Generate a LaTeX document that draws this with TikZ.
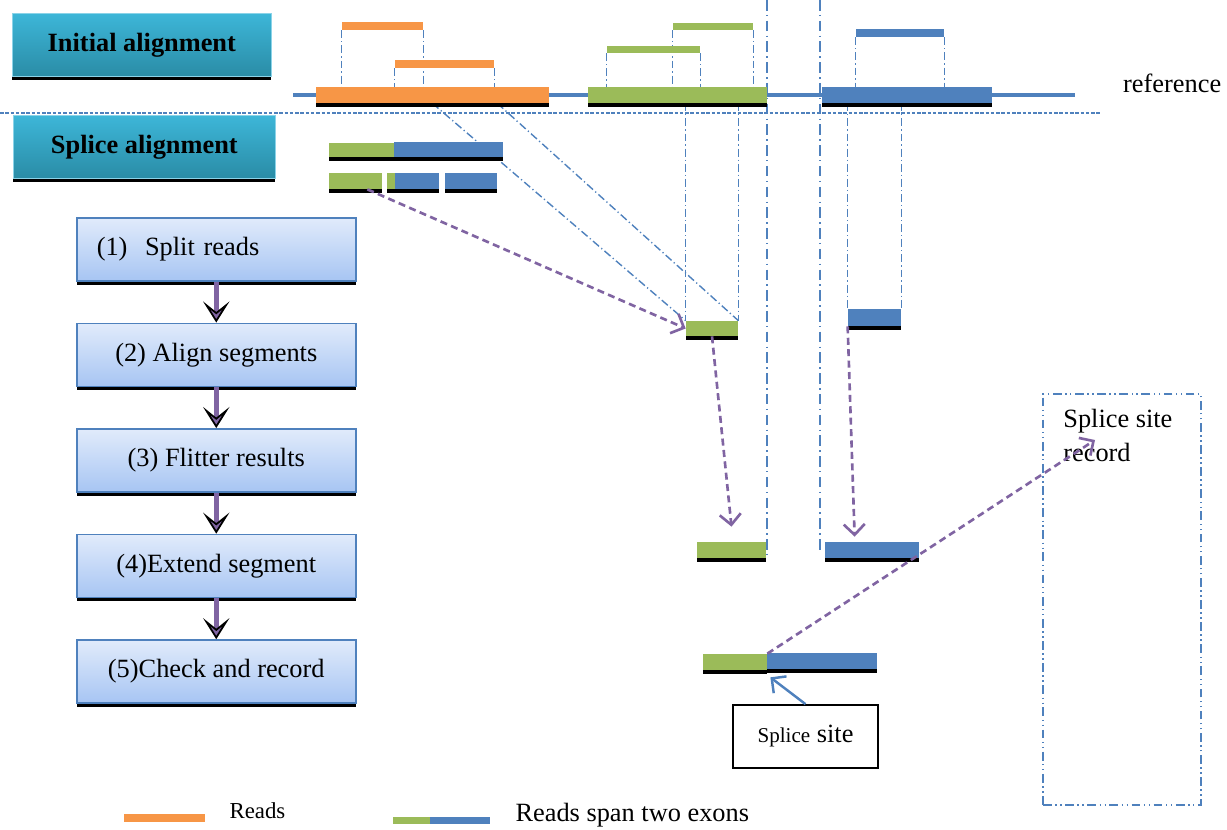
\documentclass[tikz,border=0pt]{standalone}
\usepackage{fontspec}
\setmainfont{Liberation Serif}
\usepackage{tikz}
\usetikzlibrary{positioning, arrows.meta, fit, shadows, calc}
\usepackage{xcolor}

\definecolor{exonorange}{HTML}{F79646}
\definecolor{exongreen}{HTML}{9BBB59}
\definecolor{exonblue}{HTML}{4F81BD}
\definecolor{flowpurple}{HTML}{8064A2}
\definecolor{headtop}{HTML}{3DB6D8}
\definecolor{headbottom}{HTML}{2A8CA6}
\definecolor{steptop}{HTML}{E1EBFB}
\definecolor{stepbottom}{HTML}{A7C5F3}

\newcommand{\bigfont}{\fontsize{15}{18}\selectfont}

\begin{document}
\begin{tikzpicture}[
      x=0.02cm, y=-0.02cm,
      node distance=0.82cm,
      >=Stealth,
      blackshadow/.style={
        drop shadow={shadow xshift=0pt, shadow yshift=-0.08cm, fill=black, opacity=1},
      },
      bar/.style={rectangle, inner sep=0pt, draw=none},
      shadowbar/.style={bar, blackshadow},
      headbox/.style={
        rectangle, top color=headtop, bottom color=headbottom, draw=headtop!60!white,
        minimum height=1.26cm, font=\bigfont\bfseries, blackshadow,
      },
      stepbox/.style={
        rectangle, top color=steptop, bottom color=stepbottom, draw=exonblue,
        line width=0.9pt, minimum width=5.58cm, minimum height=1.26cm,
        font=\bigfont, blackshadow,
      },
      sitebox/.style={
        rectangle, draw=black, line width=1pt,
        minimum width=2.9cm, minimum height=1.26cm, font=\bigfont,
      },
      recordbox/.style={
        rectangle, draw=exonblue, line width=1pt, inner sep=0pt,
        dash pattern=on 5pt off 2pt on 0.8pt off 2pt on 0.8pt off 2pt,
      },
      refline/.style={draw=exonblue, line width=2.2pt},
      guide/.style={draw=exonblue, line width=0.8pt, dash pattern=on 4.5pt off 1.7pt on 0.7pt off 1.7pt},
      cutline/.style={draw=exonblue, line width=1.4pt, dash pattern=on 6pt off 2.5pt on 0.8pt off 2.5pt},
      sepline/.style={draw=exonblue, line width=0.6pt, dash pattern=on 2pt off 1pt},
      flowarrow/.style={
        draw=flowpurple, line width=2.8pt,
        -{Stealth[length=12pt, width=15pt, inset=6pt, fill=flowpurple, color=black, line width=1pt]},
      },
      readarrow/.style={
        draw=flowpurple, line width=1.5pt, dash pattern=on 4pt off 2.5pt,
        -{Straight Barb[length=6pt, width=12pt]},
      },
      sitearrow/.style={draw=exonblue, line width=1.4pt, -{Straight Barb[length=6pt, width=12pt]}}
    ]
      \useasboundingbox (0,0) rectangle (1227,830);

      % layers
      \pgfdeclarelayer{background}
      \pgfsetlayers{background,main}

      % headers
      \node[headbox, minimum width=5.18cm, anchor=north west] (initial) at (12,13) {Initial alignment};
      \node[headbox, minimum width=5.24cm, anchor=north west] (splice) at (13,115) {Splice alignment};

      % exons on the reference
      \node[shadowbar, fill=exonorange, fit={(316,87) (549,103)}] (ox) {};
      \node[shadowbar, fill=exongreen, fit={(588,87) (767,103)}] (gx) {};
      \node[shadowbar, fill=exonblue, fit={(822,87) (992,103)}] (bx) {};
      \node[anchor=west, font=\bigfont] (reflabel) at (1117,83) {reference};

      % reads of the initial alignment
      \node[bar, fill=exonorange, fit={(342,22) (423,30)}] (or1) {};
      \node[bar, fill=exonorange, fit={(395,60) (494,68)}] (or2) {};
      \node[bar, fill=exongreen, fit={(673,23) (753,30)}] (gr1) {};
      \node[bar, fill=exongreen, fit={(607,46) (700,53)}] (gr2) {};
      \node[bar, fill=exonblue, fit={(856,29) (944,37)}] (br1) {};

      % split reads
      \node[shadowbar, fill=exongreen, fit={(329,143) (394,157)}] (r1g) {};
      \node[shadowbar, fill=exonblue, fit={(394,142) (503,157)}] (r1b) {};
      \node[shadowbar, fill=exongreen, fit={(329,173) (382,189)}] (r2a) {};
      \node[shadowbar, fill=exongreen, fit={(387,173) (395,189)}] (r2bg) {};
      \node[shadowbar, fill=exonblue, fit={(395,173) (439,189)}] (r2bb) {};
      \node[shadowbar, fill=exonblue, fit={(445,173) (497,189)}] (r2c) {};

      % aligned and extended segments
      \node[shadowbar, fill=exongreen, fit={(686,321) (738,336)}] (seg1) {};
      \node[shadowbar, fill=exonblue, fit={(848,309) (901,326)}] (seg2) {};
      \node[shadowbar, fill=exongreen, fit={(697,542) (766,558)}] (ext1) {};
      \node[shadowbar, fill=exonblue, fit={(825,542) (919,558)}] (ext2) {};
      \node[shadowbar, fill=exongreen, fit={(703,654) (767,670)}] (fg) {};
      \node[shadowbar, fill=exonblue, fit={(767,653) (877,669)}] (fb) {};

      % splice site
      \node[sitebox] (site) at (805.5,736.5) {{\fontsize{12}{14}\selectfont Splice} site};
      \draw[sitearrow] (site.north) -- ([xshift=0.06cm, yshift=-0.14cm]fg.south east);

      % splice site record
      \node[recordbox, fit={(1043,394) (1201,805)}] (rec) {};
      \node[anchor=north west, align=left, inner sep=0pt, font=\fontsize{15}{19}\selectfont] (rectext) at (1063,409) {Splice site\\record};
      \coordinate (recin) at (1095,440);

      % steps
      \node[stepbox, anchor=north west, align=left, inner xsep=0.4cm, text width=4.78cm] (s1) at (76,217) {(1)~~Split reads};
      \node[stepbox, below=of s1] (s2) {(2) Align segments};
      \node[stepbox, below=of s2] (s3) {(3) Flitter results};
      \node[stepbox, below=of s3] (s4) {(4)Extend segment};
      \node[stepbox, below=of s4] (s5) {(5)Check and record};

      % Draw arrows
      \draw[flowarrow] (s1) -- (s2);
      \draw[flowarrow] (s2) -- (s3);
      \draw[flowarrow] (s3) -- (s4);
      \draw[flowarrow] (s4) -- (s5);

      \draw[readarrow] ([xshift=-0.3cm]r2a.south east) -- (seg1.west);
      \draw[readarrow] (seg1.south) -- ([yshift=0.3cm]ext1.north);
      \draw[readarrow] (seg2.south west) -- ([xshift=0.6cm, yshift=0.1cm]ext2.north west);
      \draw[readarrow] (fg.north east) -- (recin);

      % legend
      \node[bar, fill=exonorange, fit={(124,814) (205,822)}] (legread) {};
      \node[right=0.36cm of legread, yshift=0.14cm, font=\fontsize{13}{15}\selectfont] (legreadtxt) {Reads};
      \node[bar, fill=exongreen, fit={(393,817) (430,824)}] (leggreen) {};
      \node[bar, fill=exonblue, fit={(430,817) (490,824)}] (legblue) {};
      \node[right=0.38cm of legblue, yshift=0.1cm, font=\bigfont] (legspantxt) {Reads span two exons};

      % reference line and guides
      \begin{pgfonlayer}{background}
        \coordinate (refL) at (293,95);
        \coordinate (refR) at (1075,95);
        \draw[refline] (refL) -- (refR);

        \coordinate (sepL) at (0,113);
        \coordinate (sepR) at (1100,113);
        \draw[sepline] (sepL) -- (sepR);

        \coordinate (cutL) at (767,0);
        \coordinate (cutR) at (820,0);
        \draw[cutline] (cutL) -- (cutL |- ext1.south);
        \draw[cutline] (cutR) -- (cutR |- ext2.center);

        \draw[guide] (or1.south west) -- (or1.south west |- ox.center);
        \draw[guide] (or1.south east) -- (or1.south east |- ox.center);
        \draw[guide] (or2.south west) -- (or2.south west |- ox.center);
        \draw[guide] (or2.south east) -- (or2.south east |- ox.north);
        \draw[guide] (gr1.south west) -- (gr1.south west |- gx.north);
        \draw[guide] (gr1.south east) -- (gr1.south east |- gx.north);
        \draw[guide] (gr2.south west) -- (gr2.south west |- gx.north);
        \draw[guide] (gr2.south east) -- (gr2.south east |- gx.north);
        \draw[guide] (br1.south west) -- (br1.south west |- bx.north);
        \draw[guide] (br1.south east) -- (br1.south east |- bx.north);

        \draw[guide] (ox.south) -- (seg1.north west);
        \draw[guide] ([xshift=-1.04cm]ox.south east) -- (seg1.north east);
        \draw[guide] (seg1.north west |- gx.south) -- (seg1.north west);
        \draw[guide] (seg1.north east |- gx.south) -- (seg1.north east);
        \draw[guide] (seg2.north west |- bx.south) -- (seg2.north west);
        \draw[guide] (seg2.north east |- bx.south) -- (seg2.north east);
      \end{pgfonlayer}
    \end{tikzpicture}
\end{document}
